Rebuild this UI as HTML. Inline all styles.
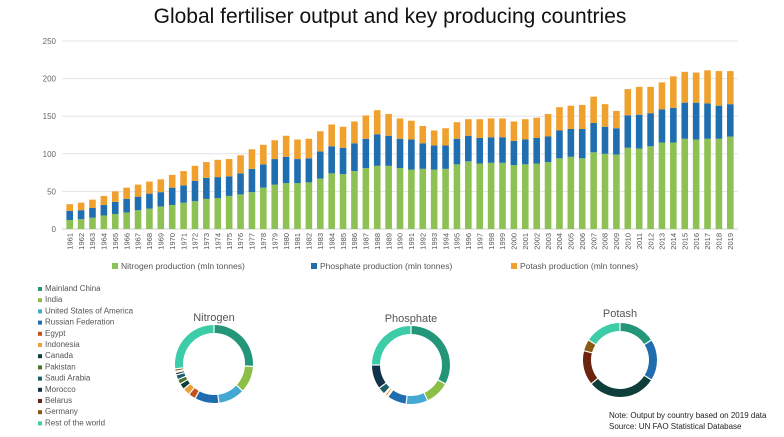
<!DOCTYPE html>
<html><head><meta charset="utf-8"><style>
body{margin:0;background:#fff;font-family:"Liberation Sans",sans-serif}
svg{display:block}
</style></head><body>
<svg id="c" width="784" height="437" xmlns="http://www.w3.org/2000/svg">
<text x="390" y="23" text-anchor="middle" font-size="21" fill="#111">Global fertiliser output and key producing countries</text>
</svg>
<script>
const years=[];for(let y=1961;y<=2019;y++)years.push(String(y));
const nitrogen=[12,13,15,18,20,22,25,27,30,32,35,37,40,41,44,46,49,55,59,61,61,62,67,74,73,77,81,84,84,81,79,80,79,80,86,90,87,88,88,85,86,87,89,94,96,94,102,100,99,108,107,110,115,115,120,119,120,120,123];
const phosphate=[12,12,13,14,16,18,18,20,19,23,23,27,28,28,26,28,31,31,34,35,32,32,36,36,35,37,39,42,40,39,40,34,32,31,34,34,34,34,34,32,33,34,34,37,37,39,39,36,35,43,45,44,44,46,48,49,47,44,43];
const potash=[9,10,11,12,14,15,16,16,17,17,19,20,21,23,23,24,26,26,25,28,26,26,27,29,28,29,31,32,29,27,25,23,20,23,22,22,25,25,25,26,27,27,30,31,31,32,35,30,23,35,37,35,36,42,41,40,44,46,44];
const yTicks=[0,50,100,150,200,250];
const countries=["Mainland China","India","United States of America","Russian Federation","Egypt","Indonesia","Canada","Pakistan","Saudi Arabia","Morocco","Belarus","Germany","Rest of the world"];
const nitrogenShare=[26,11,11,10,3,3,2.5,2,2,1,0.5,1,27];
const phosphateShare=[33,10,9,8,0.5,1,0,0.5,3,10,0,0,25];
const potashShare=[16,0,0,18,0,0,30,0,0,0,15,5,16];
const colors=["#23967a","#8cbf48","#43a9d3","#1f6cae","#c3531b","#eaa13a","#0f3f3b","#4c6f2b","#1d5e6b","#113349","#6a2410","#8b5a12","#3ccca7"];
const svg=document.getElementById('c');const NS="http://www.w3.org/2000/svg";
function mk(t,a,p){const e=document.createElementNS(NS,t);for(const k in a)e.setAttribute(k,a[k]);(p||svg).appendChild(e);return e;}
const y0=229,y1=41,vmax=250;const yS=v=>y0-(v/vmax)*(y0-y1);
const x0=64,x1=736;const bw=(x1-x0)/years.length;const xS=i=>x0+bw*i+bw/2;
yTicks.forEach(t=>{
 const l=mk('line',{x1:62,x2:738,y1:yS(t),y2:yS(t),stroke:t?'#e3e3e3':'#d0d0d0','stroke-width':1});
 
 const tx=mk('text',{x:56,y:yS(t)+3,'text-anchor':'end','font-size':8,fill:'#666'});tx.textContent=t;
 
});
years.forEach((yr,i)=>{
 const cx=xS(i),w=6.6;
 const segs=[[0,nitrogen[i],'#8dc153'],[nitrogen[i],nitrogen[i]+phosphate[i],'#1f6eb0'],[nitrogen[i]+phosphate[i],nitrogen[i]+phosphate[i]+potash[i],'#f0a02c']];
 const nm=['bar-nitrogen-','bar-phosphate-','bar-potash-'];
 segs.forEach((s,j)=>{const r=mk('rect',{x:cx-w/2,y:yS(s[1]),width:w,height:yS(s[0])-yS(s[1]),fill:s[2]});
  });
 const t=mk('text',{x:0,y:0,'font-size':7.5,fill:'#555','text-anchor':'end',transform:`translate(${cx+2.7},233) rotate(-90)`});t.textContent=yr;
 
});
[["Nitrogen production (mln tonnes)",'#8dc153',112],["Phosphate production (mln tonnes)",'#1f6eb0',311],["Potash production (mln tonnes)",'#f0a02c',511]].forEach(l=>{
 const g=mk('g',{});
 mk('rect',{x:l[2],y:263,width:6,height:6,fill:l[1]},g);
 const t=mk('text',{x:l[2]+9,y:269,'font-size':8.5,fill:'#555'},g);t.textContent=l[0];
});
countries.forEach((c,i)=>{
 const g=mk('g',{});
 const y=291+i*11.2;
 mk('rect',{x:38,y:y-4,width:4,height:4,fill:colors[i]},g);
 const t=mk('text',{x:45,y:y,'font-size':8,fill:'#555'},g);t.textContent=c;
});
function donut(vals,cx,cy,r,title,name){
 const g=mk('g',{});
 const t=mk('text',{x:cx,y:cy-43,'text-anchor':'middle','font-size':11,fill:'#555'},g);t.textContent=title;
 
 const tot=vals.reduce((a,b)=>a+b,0);let a=0;const rr=r-4;
 vals.forEach((v,i)=>{if(!v)return;const a0=a/tot*2*Math.PI,a1=(a+v)/tot*2*Math.PI;a+=v;
  const p=(an)=>[cx+rr*Math.sin(an),cy-rr*Math.cos(an)];const s=p(a0),e=p(a1);
  const path=mk('path',{d:`M${s[0]},${s[1]} A${rr},${rr} 0 ${a1-a0>Math.PI?1:0} 1 ${e[0]},${e[1]}`,fill:'none',stroke:colors[i],'stroke-width':8},g);
  
 });
 a=0;vals.forEach(v=>{if(!v)return;a+=v;const an=a/tot*2*Math.PI;
  mk('line',{x1:cx+(rr-5)*Math.sin(an),y1:cy-(rr-5)*Math.cos(an),x2:cx+(rr+5)*Math.sin(an),y2:cy-(rr+5)*Math.cos(an),stroke:'#fff','stroke-width':1.2},g);});
}
donut(nitrogenShare,214,364,39,"Nitrogen","nitrogen-donut");
donut(phosphateShare,411,365,39,"Phosphate","phosphate-donut");
donut(potashShare,620,360,37,"Potash","potash-donut");
const n1=mk('text',{x:609,y:418,'font-size':8,fill:'#222'});n1.textContent="Note: Output by country based on 2019  data";

const n2=mk('text',{x:609,y:429,'font-size':8,fill:'#222'});n2.textContent="Source: UN FAO Statistical Database";

</script>
</body></html>
